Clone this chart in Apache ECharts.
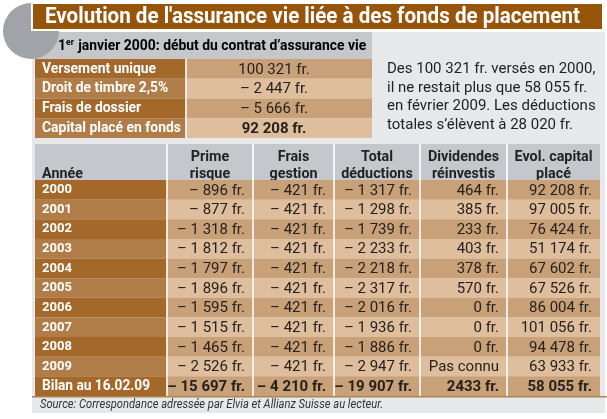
<!DOCTYPE html>
<html><head><meta charset="utf-8">
<script src="https://cdn.jsdelivr.net/npm/echarts@6/dist/echarts.min.js"></script>
<style>html,body{margin:0;padding:0;background:#fff}#c{width:607px;height:419px}</style>
</head><body><div id="c"></div>
<script>
// ---------- data ----------
const titleText = "Evolution de l'assurance vie liée à des fonds de placement";
const subtitleText = ['1', 'er', ' janvier 2000: début du contrat d’assurance vie'];
const topLabels = ['Versement unique', 'Droit de timbre 2,5%', 'Frais de dossier', 'Capital placé en fonds'];
const topValues = [100321, -2447, -5666, 92208];
const colHeaders = [['Année'], ['Prime', 'risque'], ['Frais', 'gestion'], ['Total', 'déductions'], ['Dividendes', 'réinvestis'], ['Evol. capital', 'placé']];
const years = ['2000', '2001', '2002', '2003', '2004', '2005', '2006', '2007', '2008', '2009'];
const primeRisque = [-896, -877, -1318, -1812, -1797, -1896, -1595, -1515, -1465, -2526];
const fraisGestion = [-421, -421, -421, -421, -421, -421, -421, -421, -421, -421];
const totalDeductions = [-1317, -1298, -1739, -2233, -2218, -2317, -2016, -1936, -1886, -2947];
const dividendes = [464, 385, 233, 403, 378, 570, 0, 0, 0, null];
const capitalPlace = [92208, 97005, 76424, 51174, 67602, 67526, 86004, 101056, 94478, 63933];
const bilanLabel = 'Bilan au 16.02.09';
const bilanValues = [-15697, -4210, -19907, 2433, 58055];
const bilanGrouped = [true, true, true, false, true];
const noteLines = ['Des 100 321 fr. versés en 2000,', 'il ne restait plus que 58 055 fr.', 'en février 2009. Les déductions', 'totales s’élèvent à 28 020 fr.'];
const sourceText = 'Source: Correspondance adressée par Elvia et Allianz Suisse au lecteur.';

// ---------- layout ----------
const FONT = "Roboto, sans-serif";
const mainEdges = [0, 132, 218, 299, 385, 472, 565];
const topEdges = [0, 151, 337];

const mctx = document.createElement('canvas').getContext('2d');
function fit(text, font, target) {
  mctx.font = font;
  return Math.min(1, target / mctx.measureText(text).width);
}
const titleScale = fit(titleText, 'bold 22px ' + FONT, 535);
const subScale = fit(subtitleText.join(''), 'bold 14.5px ' + FONT, 312);
const topLabelScale = fit(topLabels[3], 'bold 15px ' + FONT, 139);
const bilanScale = fit(bilanLabel, 'bold 15px ' + FONT, 108);
const headScale = fit(colHeaders[5][0], 'bold 15px ' + FONT, 78);
const sourceScale = fit(sourceText, 'italic 12px ' + FONT, 343);

function fmt(v, grouped) {
  if (v === null || v === undefined) return 'Pas connu';
  const a = Math.abs(v);
  const s = grouped === false ? String(a) : String(a).replace(/\B(?=(\d{3})+(?!\d))/g, ' ');
  return (v < 0 ? '– ' : '') + s + ' fr.';
}

const rows = years.concat([bilanLabel]);
const bodyCells = [];
rows.forEach(function (r, i) {
  const isB = i === rows.length - 1;
  const vals = isB ? bilanValues : [primeRisque[i], fraisGestion[i], totalDeductions[i], dividendes[i], capitalPlace[i]];
  bodyCells.push({ value: [0, i], txt: r });
  vals.forEach(function (v, k) {
    bodyCells.push({ value: [k + 1, i], txt: fmt(v, isB ? bilanGrouped[k] : true) });
  });
});
const headCells = colHeaders.map(function (h, c) { return { value: [c, 0], lines: h }; });
const topCells = [];
topLabels.forEach(function (l, i) {
  topCells.push({ value: [0, i], txt: l });
  topCells.push({ value: [1, i], txt: fmt(topValues[i], true) });
});

function cellBox(api, edges) {
  const c = api.value(0), r = api.value(1);
  const x0 = api.coord([edges[c], r])[0];
  const x1 = api.coord([edges[c + 1], r])[0];
  const yc = api.coord([0, r])[1];
  const h = api.size([0, 1])[1];
  return { c: c, r: r, x0: x0, x1: x1, yc: yc, h: h };
}
function txtEl(text, x, y, align, fill, font, sx) {
  return { type: 'text', x: x, y: y, scaleX: sx || 1, style: { text: text, x: 0, y: 0, align: align, verticalAlign: 'middle', fill: fill, font: font } };
}

function renderBody(params, api) {
  const b = cellBox(api, mainEdges);
  const dark = b.r % 2 === 0;
  const isB = b.r === rows.length - 1;
  const fill = b.c === 0 ? (dark ? '#a4682b' : '#b07c48') : (dark ? '#c9a179' : '#dfbe9d');
  const children = [{ type: 'rect', shape: { x: b.x0, y: b.yc - b.h / 2, width: b.x1 - b.x0, height: b.h }, style: { fill: fill } }];
  if (b.c > 0) children.push({ type: 'rect', shape: { x: b.x0 - 0.8, y: b.yc - b.h / 2, width: 1.6, height: b.h }, style: { fill: '#ffffff' } });
  const txt = bodyCells[params.dataIndex].txt;
  if (b.c === 0) {
    children.push(txtEl(txt, b.x0 + 7, b.yc, 'left', '#ffffff', 'bold ' + (isB ? 15 : 13) + 'px ' + FONT, isB ? bilanScale : 1));
  } else {
    children.push(txtEl(txt, b.x1 - 8, b.yc + 1, 'right', '#26211d', (isB ? 'bold ' : '') + '15px ' + FONT, 1));
  }
  return { type: 'group', children: children };
}

function renderHead(params, api) {
  const b = cellBox(api, mainEdges);
  const top = b.yc - b.h / 2;
  const children = [{ type: 'rect', shape: { x: b.x0, y: top, width: b.x1 - b.x0, height: b.h }, style: { fill: '#c4c7cb' } }];
  if (b.c > 0) children.push({ type: 'rect', shape: { x: b.x0 - 0.8, y: top, width: 1.6, height: b.h }, style: { fill: '#ffffff' } });
  const lines = headCells[params.dataIndex].lines;
  const font = 'bold 15px ' + FONT;
  if (b.c === 0) {
    children.push(txtEl(lines[0], b.x0 + 7, top + 30, 'left', '#222222', font, headScale));
  } else {
    const cx = (b.x0 + b.x1) / 2;
    children.push(txtEl(lines[0], cx, top + 13.5, 'center', '#222222', font, headScale));
    children.push(txtEl(lines[1], cx, top + 30, 'center', '#222222', font, headScale));
  }
  return { type: 'group', children: children };
}

function renderTop(params, api) {
  const b = cellBox(api, topEdges);
  const dark = b.r % 2 === 0;
  const last = b.r === topLabels.length - 1;
  const fill = b.c === 0 ? (dark ? '#a4682b' : '#b07c48') : (dark ? '#c9a179' : '#dfbe9d');
  const children = [{ type: 'rect', shape: { x: b.x0, y: b.yc - b.h / 2, width: b.x1 - b.x0, height: b.h }, style: { fill: fill } }];
  if (b.c > 0) children.push({ type: 'rect', shape: { x: b.x0 - 0.8, y: b.yc - b.h / 2, width: 1.6, height: b.h }, style: { fill: '#ffffff' } });
  const txt = topCells[params.dataIndex].txt;
  if (b.c === 0) {
    children.push(txtEl(txt, b.x0 + 7, b.yc, 'left', '#ffffff', 'bold 15px ' + FONT, topLabelScale));
  } else {
    children.push(txtEl(txt, (b.x0 + b.x1) / 2 - 5, b.yc + 1, 'center', '#26211d', (last ? 'bold ' : '') + '15px ' + FONT, 1));
  }
  return { type: 'group', children: children };
}

const hiddenAxis = { show: false };
const chart = echarts.init(document.getElementById('c'), null, { renderer: 'canvas' });
chart.setOption({
  animation: false,
  backgroundColor: '#ffffff',
  grid: [
    { left: 35, top: 59, width: 337, height: 79 },
    { left: 35, top: 144, width: 565, height: 36 },
    { left: 35, top: 180, width: 565, height: 216 }
  ],
  xAxis: [
    Object.assign({ type: 'value', min: 0, max: 337, gridIndex: 0 }, hiddenAxis),
    Object.assign({ type: 'value', min: 0, max: 565, gridIndex: 1 }, hiddenAxis),
    Object.assign({ type: 'value', min: 0, max: 565, gridIndex: 2 }, hiddenAxis)
  ],
  yAxis: [
    Object.assign({ type: 'category', data: topLabels, inverse: true, gridIndex: 0 }, hiddenAxis),
    Object.assign({ type: 'category', data: ['header'], inverse: true, gridIndex: 1 }, hiddenAxis),
    Object.assign({ type: 'category', data: rows, inverse: true, gridIndex: 2 }, hiddenAxis)
  ],
  graphic: [
    { type: 'rect', z: 0, shape: { x: 32, y: 32, width: 573, height: 381 }, style: { fill: '#e7e8ea' } },
    { type: 'rect', z: 0, shape: { x: 32, y: 32, width: 340, height: 27 }, style: { fill: '#c5c7ca' } },
    { type: 'circle', z: 1, shape: { cx: 31, cy: 31, r: 28 }, style: { fill: '#a0a4a9' } },
    { type: 'rect', z: 2, shape: { x: 32, y: 3, width: 571, height: 27 }, style: { fill: '#97550c', stroke: '#ffffff', lineWidth: 2 } },
    { type: 'text', z: 3, x: 45, y: 17, scaleX: titleScale, style: { text: titleText, x: 0, y: 0, verticalAlign: 'middle', fill: '#ffffff', font: 'bold 22px ' + FONT } },
    { type: 'text', z: 3, x: 58, y: 46, scaleX: subScale, style: {
        text: '{n|' + subtitleText[0] + '}{s|' + subtitleText[1] + '}{n|' + subtitleText[2] + '}', x: 0, y: 0, verticalAlign: 'middle',
        rich: { n: { fontFamily: FONT, fontWeight: 'bold', fontSize: 14.5, color: '#222222' },
                s: { fontFamily: FONT, fontWeight: 'bold', fontSize: 9, color: '#222222', padding: [0, 1, 7, 0] } } } },
    { type: 'text', z: 3, style: { text: noteLines.join('\n'), x: 387, y: 60, lineHeight: 18.6, fill: '#222222', font: '15px ' + FONT } },
    { type: 'rect', z: 3, shape: { x: 32, y: 396, width: 575, height: 1.5 }, style: { fill: '#b08450' } },
    { type: 'text', z: 3, x: 40, y: 405, scaleX: sourceScale, style: { text: sourceText, x: 0, y: 0, verticalAlign: 'middle', fill: '#333333', font: 'italic 12px ' + FONT } }
  ],
  series: [
    { type: 'custom', xAxisIndex: 0, yAxisIndex: 0, data: topCells, renderItem: renderTop, z: 5 },
    { type: 'custom', xAxisIndex: 1, yAxisIndex: 1, data: headCells, renderItem: renderHead, z: 5 },
    { type: 'custom', xAxisIndex: 2, yAxisIndex: 2, data: bodyCells, renderItem: renderBody, z: 5 }
  ]
});
</script></body></html>
